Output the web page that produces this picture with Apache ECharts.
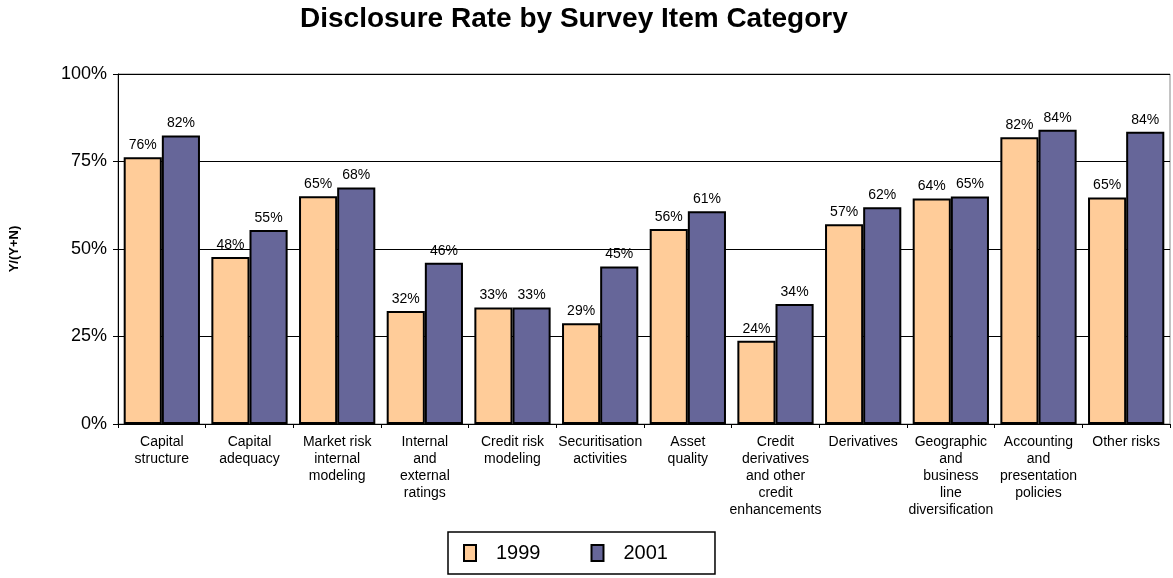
<!DOCTYPE html>
<html>
<head>
<meta charset="utf-8">
<script src="https://cdn.jsdelivr.net/npm/echarts@6/dist/echarts.min.js"></script>
<style>html,body{margin:0;padding:0;background:#fff}#chart{width:1173px;height:578px}</style>
</head>
<body>
<div id="chart"></div>
<script>
const categories = ['Capital\nstructure', 'Capital\nadequacy', 'Market risk\ninternal\nmodeling',
  'Internal\nand\nexternal\nratings', 'Credit risk\nmodeling', 'Securitisation\nactivities',
  'Asset\nquality', 'Credit\nderivatives\nand other\ncredit\nenhancements', 'Derivatives',
  'Geographic\nand\nbusiness\nline\ndiversification', 'Accounting\nand\npresentation\npolicies', 'Other risks'];
const rate1999 = [76.2, 47.7, 65.1, 32.3, 33.3, 28.8, 55.7, 23.8, 57.1, 64.4, 81.9, 64.7];
const rate2001 = [82.4, 55.4, 67.6, 46.1, 33.3, 45.0, 60.8, 34.3, 61.9, 65.0, 84.1, 83.5];
const yTicks = [0, 25, 50, 75, 100];

const chart = echarts.init(document.getElementById('chart'));
const font = 'Arial, "Liberation Sans", sans-serif';
const barLabel = {
  show: true, position: 'top', distance: 5, fontSize: 14, color: '#000', fontFamily: font,
  formatter: p => Math.round(p.value) + '%'
};
chart.setOption({
  animation: false,
  title: {
    text: 'Disclosure Rate by Survey Item Category', left: 295, top: 0,
    textStyle: { fontSize: 28, fontWeight: 'bold', color: '#000', fontFamily: font }
  },
  legend: {
    left: 448, top: 532, icon: 'rect',
    padding: [11, 47, 11, 15], itemGap: 50, itemWidth: 12, itemHeight: 16,
    borderColor: '#000', borderWidth: 1.5,
    textStyle: { fontSize: 20, color: '#000', fontFamily: font, padding: [0, 0, 0, 15] },
    data: ['1999', '2001']
  },
  grid: { left: 117, right: 3, top: 74, bottom: 154, show: true, borderColor: '#888', borderWidth: 1 },
  xAxis: {
    type: 'category', data: categories,
    axisLine: { lineStyle: { color: '#000', width: 1 } },
    axisTick: { show: true, length: 4, lineStyle: { color: '#000' } },
    axisLabel: { interval: 0, fontSize: 14, lineHeight: 17, color: '#000', fontFamily: font, margin: 10 }
  },
  yAxis: {
    type: 'value', min: yTicks[0], max: yTicks[yTicks.length - 1], interval: 25,
    name: 'Y/(Y+N)', nameLocation: 'middle', nameGap: 97, nameRotate: 90,
    nameTextStyle: { fontSize: 13, fontWeight: 'bold', color: '#000', fontFamily: font },
    axisLine: { show: true, lineStyle: { color: '#000', width: 1 } },
    axisTick: { show: true, length: 5, lineStyle: { color: '#000' } },
    axisLabel: { fontSize: 18, color: '#000', fontFamily: font, margin: 11, formatter: v => v + '%' },
    splitLine: { lineStyle: { color: '#000', width: 1 } }
  },
  series: [
    {
      name: '1999', type: 'bar', data: rate1999, barGap: '0%', barCategoryGap: '13%',
      itemStyle: { color: '#FFCC99', borderColor: '#000', borderWidth: 2 },
      label: barLabel
    },
    {
      name: '2001', type: 'bar', data: rate2001,
      itemStyle: { color: '#666699', borderColor: '#000', borderWidth: 2 },
      label: barLabel
    }
  ]
});
</script>
</body>
</html>
